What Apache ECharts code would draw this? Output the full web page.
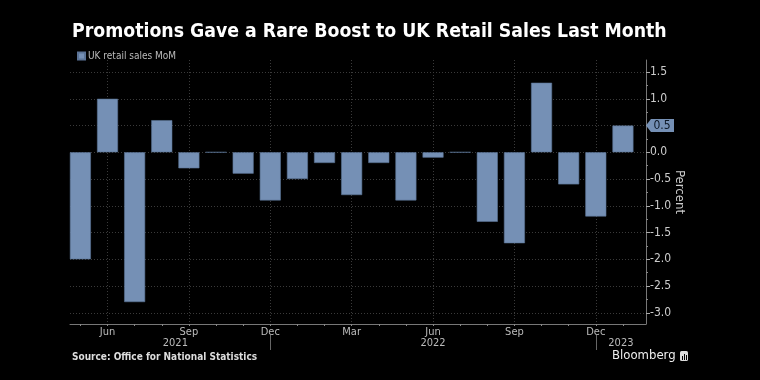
<!DOCTYPE html>
<html>
<head>
<meta charset="utf-8">
<script src="https://cdn.jsdelivr.net/npm/echarts@6/dist/echarts.min.js"></script>
<style>
html,body{margin:0;padding:0;background:#000;}
#chart{width:760px;height:380px;}
</style>
</head>
<body>
<div id="chart"></div>
<script>
// Months (May 2021 – Jan 2023)
const months = ['2021-05','2021-06','2021-07','2021-08','2021-09','2021-10','2021-11','2021-12',
  '2022-01','2022-02','2022-03','2022-04','2022-05','2022-06','2022-07','2022-08','2022-09','2022-10','2022-11','2022-12',
  '2023-01'];
// UK retail sales MoM, percent
const salesMoM = [-2.0, 1.0, -2.8, 0.6, -0.3, 0.0, -0.4, -0.9,
  -0.5, -0.2, -0.8, -0.2, -0.9, -0.1, 0.0, -1.3, -1.7, 1.3, -0.6, -1.2,
  0.5];
const monthNames = ['Jan','Feb','Mar','Apr','May','Jun','Jul','Aug','Sep','Oct','Nov','Dec'];
const yTicks = [-3.0, -2.5, -2.0, -1.5, -1.0, -0.5, 0.0, 0.5, 1.0, 1.5];
const seriesName = 'UK retail sales MoM';

const FONT = 'DejaVu Sans Condensed, DejaVu Sans, sans-serif';
const X_MIN = -0.383, X_MAX = 20.85;
const Y_MIN = -3.21, Y_MAX = 1.725;

const idx = months.map((m, i) => i);
const quarterIdx = idx.filter(i => [2,5,8,11].includes(parseInt(months[i].slice(5), 10) - 1));
const decIdx = idx.filter(i => months[i].slice(5) === '12');
const years = [...new Set(months.map(m => m.slice(0, 4)))];
const yearCenters = years.map((y, k) => {
  const start = k === 0 ? 0 : decIdx[k - 1];
  const end = k < decIdx.length ? decIdx[k] : X_MAX;
  return (start + end) / 2;
});
const minorY = yTicks.slice(0, -1).map(v => v + 0.25);

const chart = echarts.init(document.getElementById('chart'));
const last = salesMoM.length - 1;
chart.setOption({
  backgroundColor: '#000',
  animation: false,
  textStyle: { fontFamily: FONT },
  title: {
    text: 'Promotions Gave a Rare Boost to UK Retail Sales Last Month',
    left: 67, top: 17,
    textStyle: { color: '#fff', fontSize: 19.3, fontWeight: 'bold', fontFamily: FONT }
  },
  legend: {
    data: [seriesName], left: 72, top: 46, itemWidth: 7, itemHeight: 7, itemGap: 4,
    icon: 'rect',
    textStyle: { color: '#bbb', fontSize: 10, fontFamily: FONT, padding: [0, 0, 0, -2] }
  },
  grid: { left: 70, right: 114, top: 60, bottom: 56, containLabel: false },
  xAxis: [
    {
      type: 'value', min: X_MIN, max: X_MAX, position: 'bottom',
      axisLine: { show: true, onZero: false, lineStyle: { color: '#777', width: 1 } },
      axisTick: { show: false, customValues: quarterIdx },
      axisLabel: { customValues: quarterIdx, color: '#bbb', fontSize: 11, margin: 3,
        formatter: v => monthNames[parseInt(months[Math.round(v)].slice(5), 10) - 1] },
      splitLine: { show: true, lineStyle: { color: '#3a3a3a', type: [1, 2], width: 1 } }
    },
    {
      type: 'value', min: X_MIN, max: X_MAX, position: 'bottom',
      axisLine: { show: false, onZero: false },
      axisTick: { show: true, customValues: idx, length: 2, lineStyle: { color: '#888' } },
      axisLabel: { show: false },
      splitLine: { show: false }
    },
    {
      type: 'value', min: X_MIN, max: X_MAX, position: 'bottom', offset: 11,
      axisLine: { show: false, onZero: false },
      axisTick: { show: true, customValues: decIdx, length: 15, lineStyle: { color: '#666' } },
      axisLabel: { customValues: yearCenters, color: '#bbb', fontSize: 11, margin: 3,
        formatter: v => years[yearCenters.findIndex(c => Math.abs(c - v) < 1e-6)] },
      splitLine: { show: false }
    }
  ],
  yAxis: [
    {
      type: 'value', position: 'right', min: Y_MIN, max: Y_MAX,
      name: 'Percent', nameLocation: 'middle', nameRotate: -90, nameGap: 27,
      nameMoveOverlap: false,
      nameTextStyle: { color: '#ccc', fontSize: 13, fontFamily: FONT },
      axisLine: { show: true, onZero: false, lineStyle: { color: '#777', width: 1 } },
      axisTick: { show: true, customValues: yTicks, length: 4, lineStyle: { color: '#aaa' } },
      axisLabel: { customValues: yTicks, color: '#ccc', fontSize: 12, margin: 4,
        formatter: v => v.toFixed(1) },
      splitLine: { show: true, lineStyle: { color: '#3a3a3a', type: [1, 2], width: 1 } }
    },
    {
      type: 'value', position: 'right', min: Y_MIN, max: Y_MAX,
      axisLine: { show: false, onZero: false },
      axisTick: { show: true, customValues: minorY, length: 2, lineStyle: { color: '#888' } },
      axisLabel: { show: false },
      splitLine: { show: false }
    }
  ],
  series: [{
    name: seriesName,
    type: 'bar',
    xAxisIndex: 0, yAxisIndex: 0,
    barWidth: 21,
    data: salesMoM.map((v, i) => [i, v]),
    itemStyle: { color: '#7590b5', borderColor: '#5b7396', borderWidth: 0.6 },
    markPoint: {
      symbol: 'path://M0,6.5 L6,0 L34,0 L34,13 L6,13 Z',
      symbolSize: [28, 13],
      symbolOffset: [14, 0],
      itemStyle: { color: '#7590b5' },
      label: { show: true, position: 'inside', offset: [2, 0], color: '#0d1826', fontSize: 12,
        fontFamily: FONT, formatter: p => p.value.toFixed(1) },
      data: [{ coord: [X_MAX, salesMoM[last]], value: salesMoM[last] }]
    }
  }],
  graphic: [
    { type: 'text', left: 72, top: 352,
      style: { text: 'Source: Office for National Statistics', fill: '#ddd', font: 'bold 10px ' + FONT } },
    { type: 'text', left: 612, top: 349,
      style: { text: 'Bloomberg', fill: '#eee', font: '13px ' + FONT } },
    { type: 'rect', left: 680, top: 351, shape: { width: 8, height: 10, r: 1.5 }, style: { fill: '#ddd' } },
    { type: 'rect', left: 682, top: 356, shape: { width: 1, height: 4 }, style: { fill: '#000' } },
    { type: 'rect', left: 684, top: 354, shape: { width: 1, height: 6 }, style: { fill: '#000' } },
    { type: 'rect', left: 686, top: 355, shape: { width: 1, height: 5 }, style: { fill: '#000' } }
  ]
});
</script>
</body>
</html>
